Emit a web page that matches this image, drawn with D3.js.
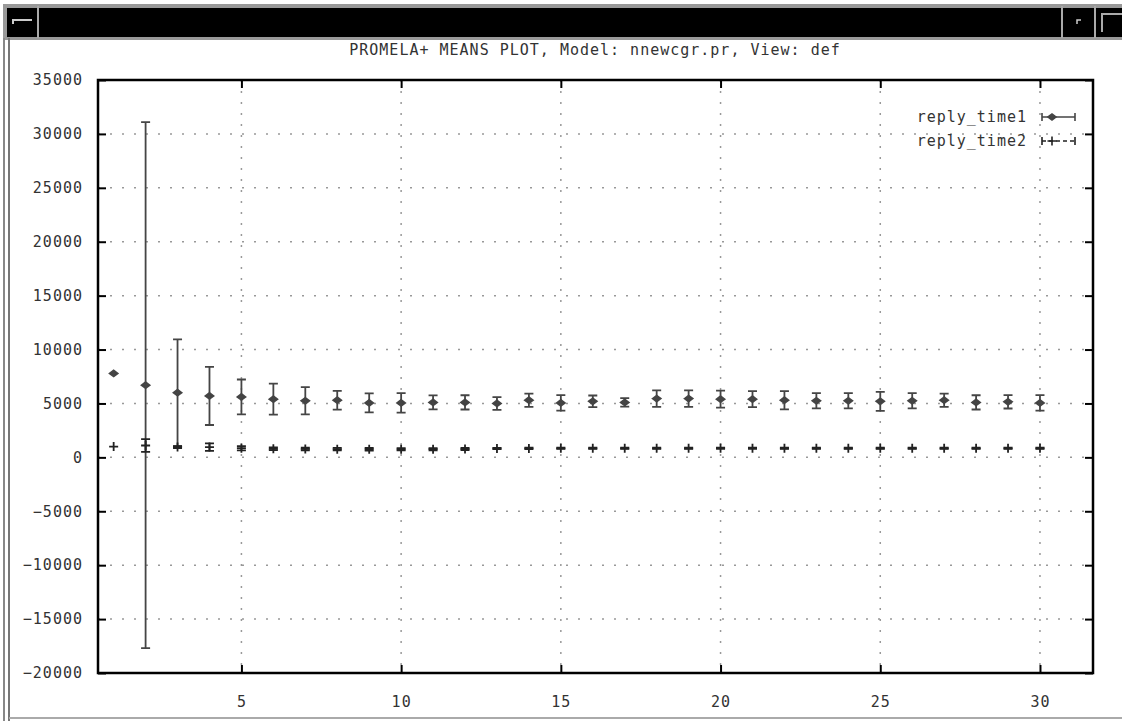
<!DOCTYPE html>
<html>
<head>
<meta charset="utf-8">
<script src="https://cdn.jsdelivr.net/npm/d3@7"></script>
<style>
  body { margin: 0; background: #fff; }
  text { font-family: "DejaVu Sans Mono", monospace; font-size: 15px; letter-spacing: 1px; fill: #333; }
</style>
</head>
<body>
<div id="chart"></div>
<script>
// data
const xValues = d3.range(1, 31);
const time1Mean = [7780, 6700, 6000, 5700, 5600, 5400, 5250, 5300, 5050, 5050,
  5100, 5100, 5000, 5300, 5050, 5200, 5100, 5450, 5450, 5400,
  5400, 5300, 5250, 5250, 5200, 5250, 5300, 5100, 5150, 5050];
const time1Err = [0, 24400, 4950, 2700, 1620, 1430, 1270, 870, 880, 900,
  650, 660, 590, 620, 720, 540, 390, 770, 770, 790,
  740, 850, 700, 700, 880, 700, 620, 660, 620, 720];
const time2Mean = [1000, 1100, 950, 950, 850, 800, 780, 760, 750, 750,
  760, 770, 820, 830, 840, 840, 840, 840, 840, 850,
  850, 840, 840, 840, 840, 840, 840, 840, 840, 840];
const time2Err = [0, 600, 100, 350, 200, 130, 120, 120, 120, 110,
  100, 100, 60, 60, 60, 50, 50, 50, 50, 50,
  50, 50, 50, 50, 50, 50, 50, 50, 50, 50];
const xTicks = [5, 10, 15, 20, 25, 30];
const yTicks = d3.range(-20000, 35001, 5000);
const seriesNames = ['reply_time1', 'reply_time2'];
const titleText = 'PROMELA+ MEANS PLOT, Model: nnewcgr.pr, View: def';

const width = 1122, height = 721;
const plotLeft = 98, plotRight = 1093, plotTop = 80, plotBottom = 673;

const svg = d3.select('#chart').append('svg')
  .attr('width', width)
  .attr('height', height);

// soft edges like the scanned screen grab
svg.append('defs').append('filter').attr('id', 'soft')
  .append('feGaussianBlur').attr('stdDeviation', 0.45);

// window frame
svg.append('rect').attr('x', 3).attr('y', 4).attr('width', width).attr('height', 36)
  .attr('fill', '#999');
svg.append('rect').attr('x', 7).attr('y', 8).attr('width', width).attr('height', 29)
  .attr('fill', '#000');
[38, 1062, 1095].forEach((dx) => {
  svg.append('line').attr('x1', dx).attr('x2', dx).attr('y1', 6).attr('y2', 38)
    .attr('stroke', '#aaa').attr('stroke-width', 2);
});
svg.append('path').attr('d', 'M13,24 V20 H32').attr('fill', 'none')
  .attr('stroke', '#ccc').attr('stroke-width', 2);
svg.append('path').attr('d', 'M1077,24 V20 H1081').attr('fill', 'none')
  .attr('stroke', '#ccc').attr('stroke-width', 1.5);
svg.append('path').attr('d', 'M1102,32 V14 H1122').attr('fill', 'none')
  .attr('stroke', '#aaa').attr('stroke-width', 2);
svg.append('line').attr('x1', 4).attr('x2', 4).attr('y1', 38).attr('y2', height)
  .attr('stroke', '#888').attr('stroke-width', 2);
svg.append('line').attr('x1', 9).attr('x2', 9).attr('y1', 38).attr('y2', height)
  .attr('stroke', '#777').attr('stroke-width', 2);
svg.append('line').attr('x1', 9).attr('x2', width).attr('y1', 718).attr('y2', 718)
  .attr('stroke', '#aaa').attr('stroke-width', 2);

// scales
const x = d3.scaleLinear().domain([0.51, 31.66]).range([plotLeft, plotRight]);
const y = d3.scaleLinear().domain([-20000, 35000]).range([plotBottom, plotTop]);

// title
svg.append('text')
  .attr('x', 595).attr('y', 50)
  .attr('text-anchor', 'middle')
  .attr('dominant-baseline', 'middle')
  .text(titleText);

// grid
const grid = svg.append('g').attr('stroke', '#999').attr('stroke-width', 1.5)
  .attr('filter', 'url(#soft)');
yTicks.filter((t) => t > -20000 && t < 35000).forEach((t) => {
  grid.append('line')
    .attr('x1', plotLeft).attr('x2', plotRight)
    .attr('y1', y(t)).attr('y2', y(t))
    .attr('stroke-dasharray', '2,10');
});
xTicks.forEach((t) => {
  grid.append('line')
    .attr('x1', x(t)).attr('x2', x(t))
    .attr('y1', plotTop).attr('y2', plotBottom)
    .attr('stroke-dasharray', '2,9');
});

// axes, ticks pointing inward like gnuplot
const styleAxis = (g) => {
  g.select('.domain').remove();
  g.selectAll('.tick line').attr('stroke', '#000').attr('stroke-width', 2);
  g.selectAll('.tick text').attr('fill', '#333')
    .style('font-family', '"DejaVu Sans Mono", monospace')
    .style('font-size', '15px');
};
svg.append('g').attr('transform', `translate(${plotLeft},0)`)
  .call(d3.axisLeft(y).tickValues(yTicks).tickSize(-8).tickPadding(15).tickFormat(d3.format('d')))
  .call(styleAxis);
svg.append('g').attr('transform', `translate(${plotRight},0)`)
  .call(d3.axisRight(y).tickValues(yTicks).tickSize(-8).tickFormat(''))
  .call(styleAxis);
svg.append('g').attr('transform', `translate(0,${plotBottom})`)
  .call(d3.axisBottom(x).tickValues(xTicks).tickSize(-8).tickPadding(23))
  .call(styleAxis);
svg.append('g').attr('transform', `translate(0,${plotTop})`)
  .call(d3.axisTop(x).tickValues(xTicks).tickSize(-8).tickFormat(''))
  .call(styleAxis);

// border
svg.append('rect')
  .attr('x', plotLeft).attr('y', plotTop)
  .attr('width', plotRight - plotLeft).attr('height', plotBottom - plotTop)
  .attr('fill', 'none').attr('stroke', '#000').attr('stroke-width', 2.5);

// error bars
const series = [
  { mean: time1Mean, err: time1Err, dash: null, symbol: 'diamond', color: '#444' },
  { mean: time2Mean, err: time2Err, dash: '4,3', symbol: 'plus', color: '#222' },
];
const cap = 4.5;
const symbolPath = (type, cx, cy) => {
  if (type === 'diamond') return `M${cx - 4},${cy} L${cx},${cy - 3} L${cx + 4},${cy} L${cx},${cy + 3} Z`;
  return `M${cx - 4.5},${cy} H${cx + 4.5} M${cx},${cy - 4.5} V${cy + 4.5}`;
};

series.forEach((s) => {
  const g = svg.append('g').attr('stroke', s.color).attr('stroke-width', 1.8)
    .attr('fill', 'none').attr('filter', 'url(#soft)');
  const pts = xValues.map((d, i) => ({ x: d, m: s.mean[i], e: s.err[i] }));
  g.selectAll('path.bar')
    .data(pts.filter((d) => d.e > 0))
    .enter()
    .append('path')
    .attr('class', 'bar')
    .attr('d', (d) => {
      const cx = x(d.x), y0 = y(d.m - d.e), y1 = y(d.m + d.e);
      return `M${cx},${y0} V${y1} M${cx - cap},${y0} H${cx + cap} M${cx - cap},${y1} H${cx + cap}`;
    });
  g.selectAll('path.pt')
    .data(pts)
    .enter()
    .append('path')
    .attr('class', 'pt')
    .attr('d', (d) => symbolPath(s.symbol, x(d.x), y(d.m)))
    .attr('fill', s.symbol === 'diamond' ? s.color : 'none');
});

// key
seriesNames.forEach((name, i) => {
  const ky = 117 + i * 24;
  svg.append('text')
    .attr('x', 1027).attr('y', ky)
    .attr('text-anchor', 'end')
    .attr('dominant-baseline', 'middle')
    .text(name);
  const g = svg.append('g').attr('stroke', series[i].color).attr('stroke-width', 1.6)
    .attr('fill', 'none').attr('filter', 'url(#soft)');
  g.append('line').attr('x1', 1042).attr('x2', 1075).attr('y1', ky).attr('y2', ky)
    .attr('stroke-dasharray', series[i].dash);
  g.append('path').attr('d', `M1042,${ky - 4} V${ky + 4} M1075,${ky - 4} V${ky + 4}`);
  g.append('path').attr('d', symbolPath(series[i].symbol, 1052, ky))
    .attr('fill', series[i].symbol === 'diamond' ? series[i].color : 'none');
});
</script>
</body>
</html>
